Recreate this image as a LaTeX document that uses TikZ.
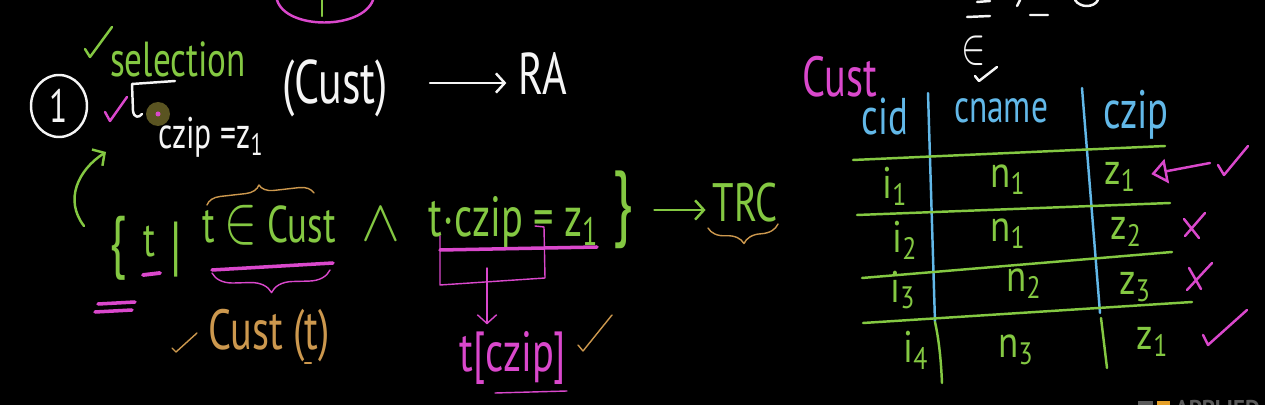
\documentclass[tikz,border=0pt]{standalone}
\usepackage{fontspec}
\setmainfont{PT Sans}
\usepackage{graphicx}
\usetikzlibrary{arrows.meta,decorations.pathreplacing}

\definecolor{board}{RGB}{0,0,0}
\definecolor{chalkwhite}{RGB}{245,245,245}
\definecolor{chalkgreen}{RGB}{132,200,66}
\definecolor{chalkpink}{RGB}{218,72,204}
\definecolor{chalkblue}{RGB}{98,184,232}
\definecolor{chalkgold}{RGB}{204,152,78}
\definecolor{cursor}{RGB}{150,140,55}
\definecolor{logogrey}{RGB}{90,90,90}
\definecolor{logogold}{RGB}{230,160,40}

\newcommand{\fs}[1]{\fontsize{#1}{#1}\selectfont}
\newcommand{\hw}[1]{\scalebox{1}[1.4]{#1}}
\newcommand{\cellhw}[1]{\scalebox{1}[1.2]{#1}}

\tikzset{
  hand/.style={inner sep=0pt, outer sep=0pt},
  stroke/.style={line width=1.4pt, line cap=round, line join=round},
  fine/.style={line width=0.8pt, line cap=round, line join=round},
  barb/.style={-{Straight Barb[length=5pt,width=11pt]}},
  bracetop/.style={decorate, decoration={brace, amplitude=#1}},
  bracebottom/.style={decorate, decoration={brace, mirror, amplitude=#1}},
}

\begin{document}
\begin{tikzpicture}[x=0.02cm, y=-0.02cm]
\fill[board] (0,0) rectangle (1265,405);
\useasboundingbox (0,0) rectangle (1265,405);
\clip (0,0) rectangle (1265,405);

% left over from the board above
\draw[chalkpink, stroke] (277,0) .. controls (286,30) and (362,30) .. (373,0);
\draw[chalkgreen, stroke] (322,0) -- (322,16);

% (1) selection
\node[hand, chalkwhite, font=\fs{19}] (one) at (59,106) {\hw{1}};
\draw[chalkwhite, stroke] (one) ellipse (28 and 31);
\draw[chalkgreen, stroke] (85,49) -- (90,57) -- (112,27);
\node[hand, chalkgreen, font=\fs{20}] (sel) at (178,59) {\hw{selection}};
\draw[chalkpink, stroke] (105,112) -- (110,121) -- (127,97);
\draw[chalkwhite, stroke] (175,81) -- (132,84) -- (133,111)
  .. controls (134,118) and (139,118) .. (142,114);
\fill[cursor, opacity=0.6] (158,114) circle (12);
\fill[chalkpink] (158,114) circle (2.5);
\node[hand, chalkwhite, font=\fs{18}] (cond) at (211,137) {\hw{czip =z\textsubscript{1}}};
\node[hand, chalkwhite, font=\fs{25}] (rel) at (335,88) {\hw{(Cust)}};
\node[hand, chalkwhite, font=\fs{24}] (ra) at (543,74) {\hw{RA}};
\coordinate (raTail) at (430,83);
\draw[chalkwhite, stroke, barb, shorten >=7pt] (raTail) -- (raTail -| ra.west);

% TRC form
\coordinate (loopFoot) at (84,226);
\coordinate (loopTip) at (106,152);
\draw[chalkgreen, stroke, barb] (loopFoot) .. controls (64,200) and (78,170) .. (loopTip);
\node[hand, chalkgreen, font=\fs{28}] (lbrace) at (118,248) {\hw{\{}};
\node[hand, chalkgreen, font=\fs{20}] (tvar) at (149,241) {\hw{t}};
\node[hand, chalkgreen, font=\fs{27}] (bar) at (176,250) {\hw{|}};
\node[hand, chalkgreen, font=\fs{21}] (member) at (269,225) {\hw{t \scalebox{1.35}{$\in$} Cust}};
\node[hand, chalkgreen, font=\fs{20}] (conj) at (381,224) {\scalebox{1.6}{$\wedge$}};
\node[hand, chalkgreen, font=\fs{23}] (zipeq) at (514,222) {\hw{t$\cdot$czip = z\textsubscript{1}}};
\node[hand, chalkgreen, font=\fs{34}] (rbrace) at (623,210) {\hw{\}}};
\node[hand, chalkgreen, font=\fs{22}] (trc) at (745,203) {\hw{TRC}};
\draw[chalkgreen, stroke, barb, shorten <=12pt, shorten >=4pt] (rbrace.east) -- (rbrace.east -| trc.west);

\draw[chalkpink, line width=2.2pt, line cap=round] (143,275) -- (160,273);
\draw[chalkpink, line width=2pt, line cap=round] (98,304) -- (135,302) (95,312) -- (132,310);
\draw[chalkpink, line width=2pt, line cap=round] (212,270) -- (333,263);
\draw[chalkpink, fine, bracebottom=12pt] (212,273) -- (330,270);
\draw[chalkgold, fine, bracetop=8pt] (207,205) -- (314,193);
\draw[chalkgold, fine, bracebottom=10pt] (708,228) -- (778,224);

\draw[chalkgold, fine] (172,348) -- (176,352) -- (197,333);
\node[hand, chalkgold, font=\fs{23}] (custt) at (269,336) {\hw{Cust (t)}};
\draw[chalkgold, stroke] (305,363) -- (311,363);

\draw[chalkpink, line width=2pt, line cap=round] (440,250) -- (597,247);
\draw[chalkpink, fine] (440,236) -- (440,285) -- (545,278) -- (544,227) -- (535,226);
\coordinate (zipFork) at (487,268);
\node[hand, chalkpink, font=\fs{23}] (tzip) at (513,358) {\hw{t[czip]}};
\draw[chalkpink, fine, barb, shorten >=4pt] (zipFork) -- (zipFork |- tzip.north);
\draw[chalkpink, fine] (495,393) -- (567,391);
\draw[chalkgold, fine] (578,345) -- (583,351) -- (612,315);

% top right
\draw[chalkwhite, stroke] (977,2) -- (990,1);
\draw[chalkwhite, stroke] (1020,0) -- (1017,6);
\draw[chalkwhite, stroke] (1075,0) .. controls (1080,8) and (1094,8) .. (1098,0);
\draw[chalkwhite, stroke] (967,17) -- (990,16) (1030,15) -- (1048,15);
\node[hand, chalkwhite, font=\fs{22}] (elem) at (974,51) {\hw{$\in$}};
\draw[chalkwhite, stroke] (975,76) -- (979,81) -- (997,67);

% Cust table
\node[hand, chalkpink, font=\fs{23}] (tabname) at (840,77) {\hw{Cust}};
\node[hand, chalkblue, font=\fs{21}] (hcid) at (885,117) {\hw{cid}};
\node[hand, chalkblue, font=\fs{19}] (hcname) at (1001,111) {\hw{cname}};
\node[hand, chalkblue, font=\fs{22}] (hczip) at (1136,115) {\hw{czip}};
\draw[chalkblue, stroke] (928,93) -- (935,322);
\draw[chalkgreen, stroke] (935,322) .. controls (939,340) and (941,360) .. (942,383);
\draw[chalkblue, stroke] (1082,88) -- (1100,313);
\draw[chalkgreen, stroke] (1101,318) -- (1107,368);
\draw[chalkgreen, stroke] (853,160) -- (1165,146);
\draw[chalkgreen, stroke] (857,215) -- (1170,203);
\draw[chalkgreen, stroke] (862,278) -- (1172,252);
\draw[chalkgreen, stroke] (863,323) -- (1192,302);

\foreach \r/\xi/\yi/\ci/\xn/\yn/\cn/\xz/\yz/\cz in {
1/895/186/1/1008/180/1/1120/177/1,
2/905/240/2/1008/234/1/1126/232/2,
3/903/290/3/1024/284/2/1135/287/3,
4/916/350/4/1016/350/3/1156/342/1
}
{
\node[hand, chalkgreen, font=\fs{21}] (r\r-id) at (\xi,\yi) {\cellhw{i\textsubscript{\ci}}};
\node[hand, chalkgreen, font=\fs{21}] (r\r-name) at (\xn,\yn) {\cellhw{n\textsubscript{\cn}}};
\node[hand, chalkgreen, font=\fs{21}] (r\r-zip) at (\xz,\yz) {\cellhw{z\textsubscript{\cz}}};
}

% ticks and crosses
\coordinate (pickTail) at (1210,163);
\draw[chalkpink, stroke, -{Triangle[open, length=9pt, width=14pt]}, shorten >=9pt] (pickTail) -- (r1-zip.east);
\draw[chalkpink, stroke] (1218,165) -- (1224,175) -- (1248,146);
\draw[chalkpink, stroke] (1184,219) -- (1199,238) (1205,213) -- (1185,236);
\draw[chalkpink, stroke] (1189,268) -- (1201,289) (1212,263) -- (1187,290);
\draw[chalkpink, stroke] (1203,335) -- (1208,345) -- (1247,310);

% logo at the bottom edge
\fill[logogrey] (1138,401) rectangle (1153,412);
\fill[logogold] (1157,401) rectangle (1170,412);
\node[hand, anchor=north west, logogrey, font=\fs{13}\bfseries] (logo) at (1175,400) {APPLIED};

\end{tikzpicture}
\end{document}
